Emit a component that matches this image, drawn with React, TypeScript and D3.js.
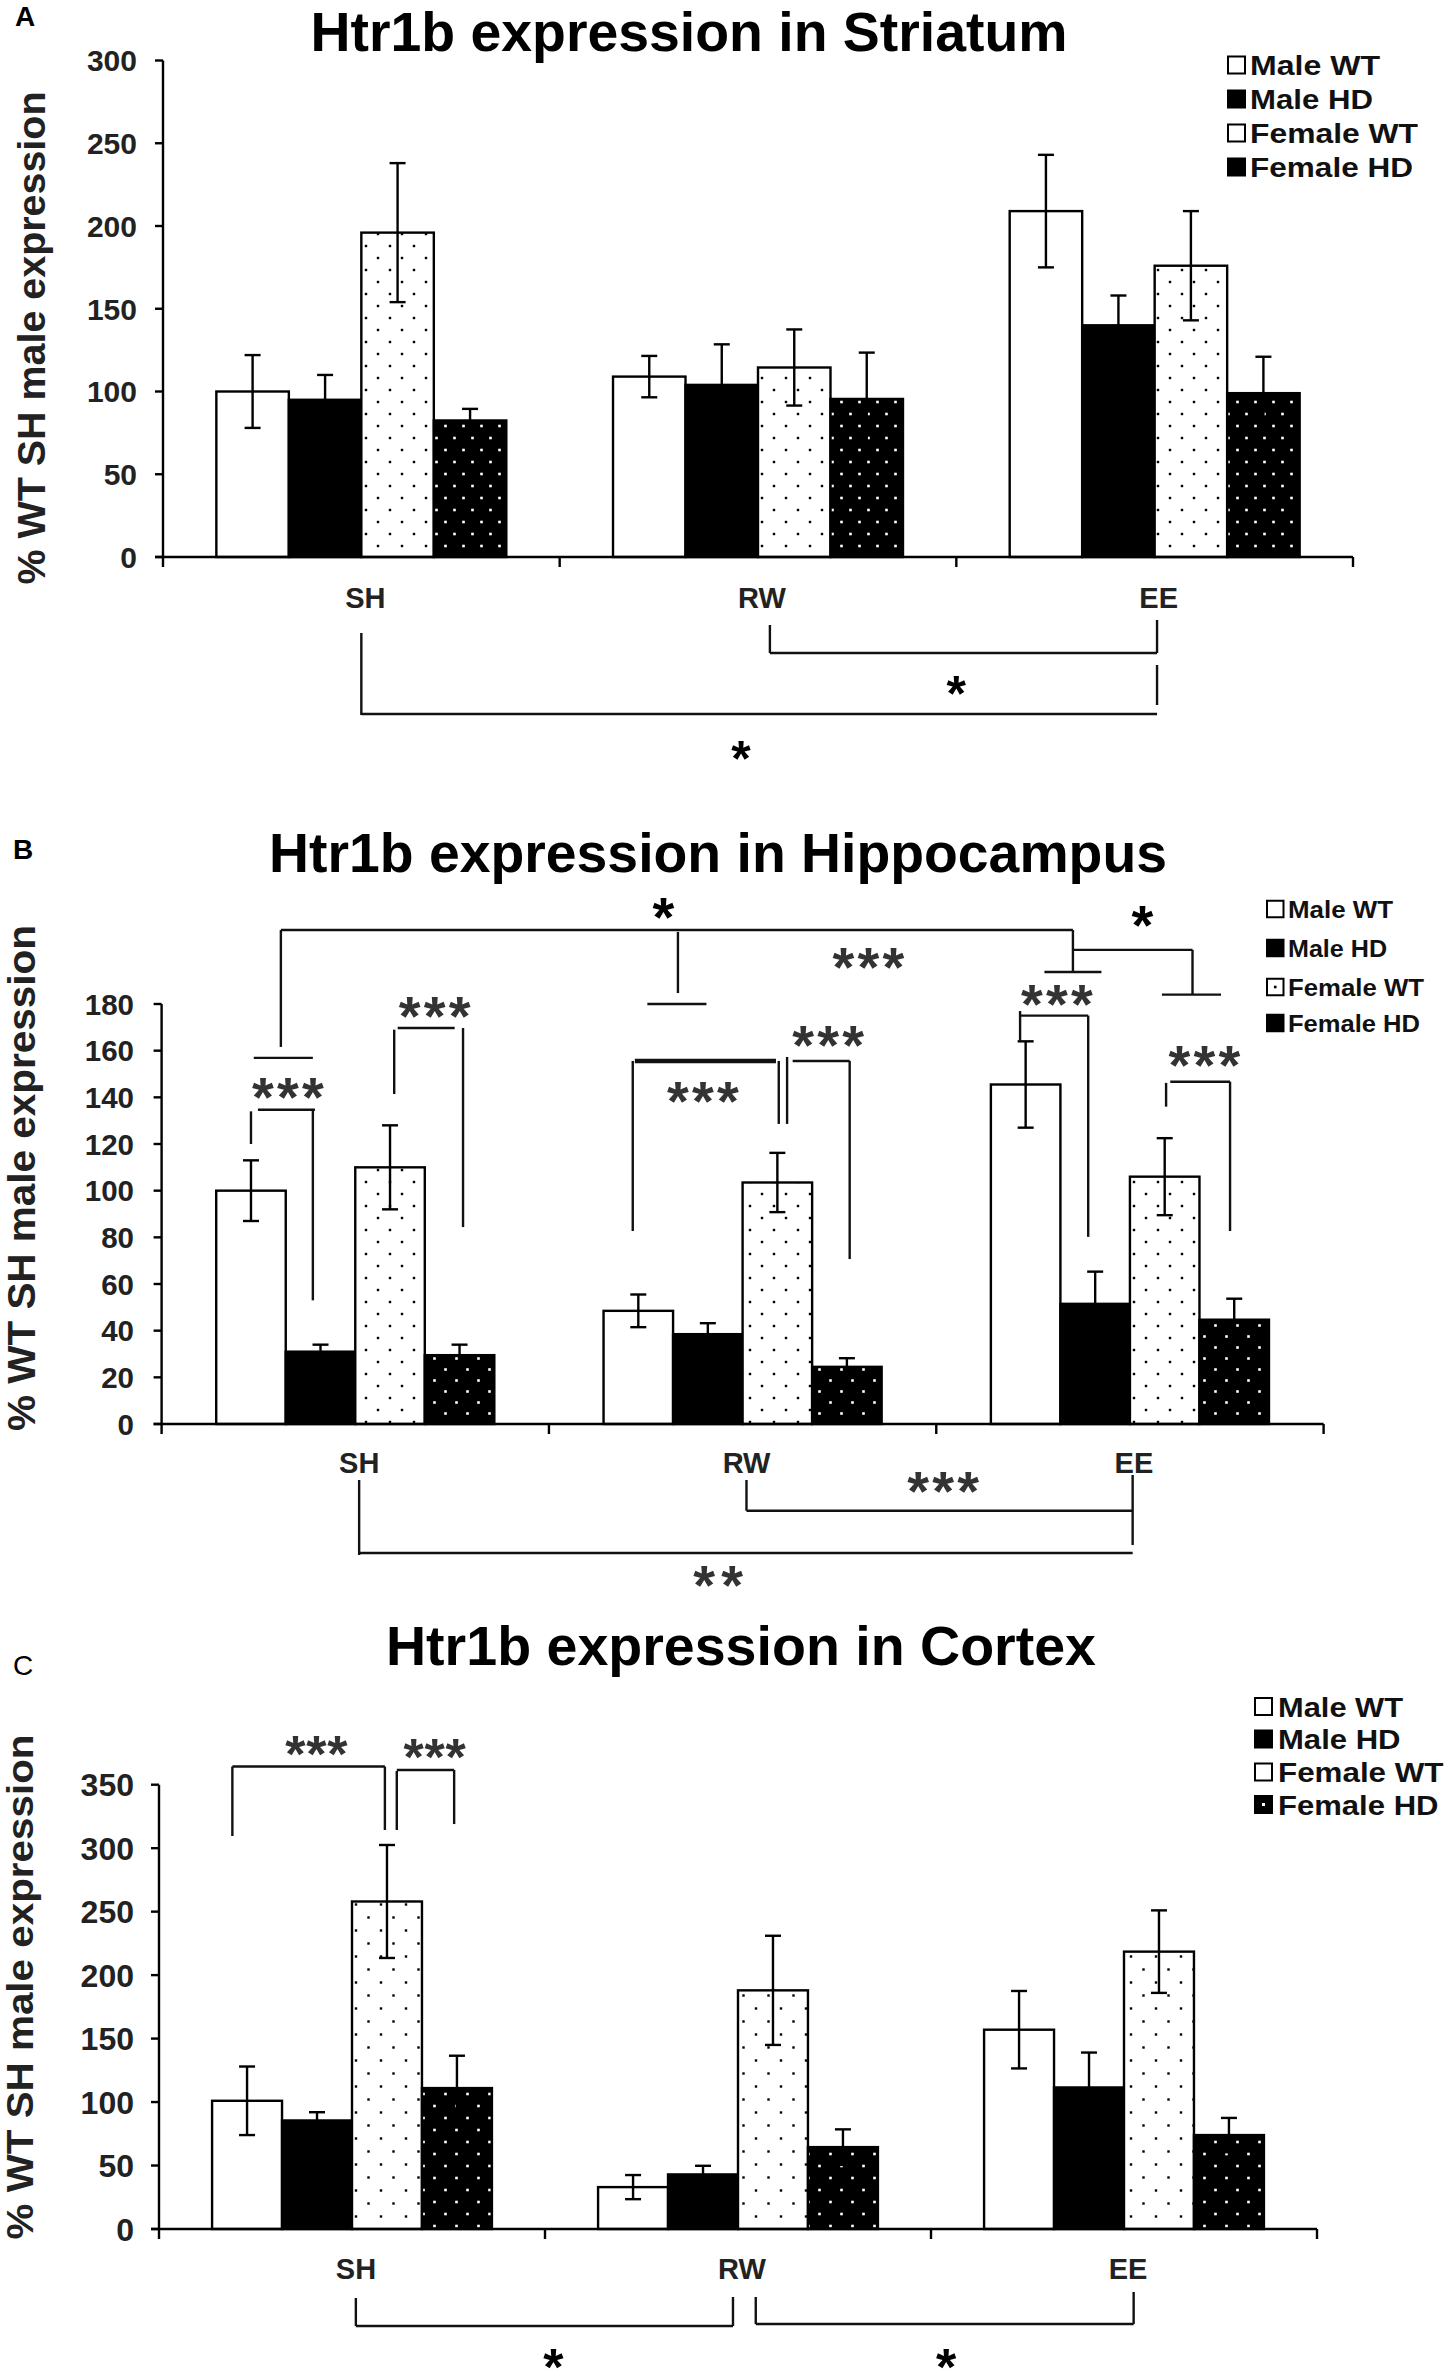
import React from 'react';
import * as d3 from 'd3';

const FONT = "'Liberation Sans', Arial, Helvetica, sans-serif";

const groups = ['SH', 'RW', 'EE'];
const seriesNames = ['Male WT', 'Male HD', 'Female WT', 'Female HD'];

// ---- Panel A: Striatum ----
const striatumMaleWT = [100, 109, 209];
const striatumMaleHD = [95, 104, 140];
const striatumFemaleWT = [196, 114.5, 176];
const striatumFemaleHD = [82.5, 95.5, 99];
const striatumMaleWTErr = [22, 12.5, 34];
const striatumMaleHDErr = [15, 24.5, 18];
const striatumFemaleWTErr = [42, 23, 33];
const striatumFemaleHDErr = [7, 28, 22];
const striatumTicks = [0, 50, 100, 150, 200, 250, 300];

// ---- Panel B: Hippocampus ----
const hippoMaleWT = [100, 48.5, 145.5];
const hippoMaleHD = [31, 38.5, 51.5];
const hippoFemaleWT = [110, 103.5, 106];
const hippoFemaleHD = [29.5, 24.5, 44.7];
const hippoMaleWTErr = [13, 7, 18.5];
const hippoMaleHDErr = [3, 4.7, 13.8];
const hippoFemaleWTErr = [18, 12.7, 16.5];
const hippoFemaleHDErr = [4.5, 3.7, 9];
const hippoTicks = [0, 20, 40, 60, 80, 100, 120, 140, 160, 180];

// ---- Panel C: Cortex ----
const cortexMaleWT = [101, 33, 157];
const cortexMaleHD = [85.5, 43, 111.5];
const cortexFemaleWT = [258, 188, 218.5];
const cortexFemaleHD = [111, 64.5, 74];
const cortexMaleWTErr = [27, 9.5, 30.5];
const cortexMaleHDErr = [6.5, 6.8, 27.5];
const cortexFemaleWTErr = [44.5, 43, 32.5];
const cortexFemaleHDErr = [25.5, 14, 13.5];
const cortexTicks = [0, 50, 100, 150, 200, 250, 300, 350];

// Significance annotations in data space: [group, barPos, value, group, barPos, value, width?]
const hippoTopSegs = [
  [0, 0.93, 211.7, 2, 1.18, 211.7],
  [0, 0.93, 211.7, 0, 0.93, 161.6],
  [0, 0.54, 156.9, 0, 1.39, 156.9],
  [1, 1.07, 210.9, 1, 1.07, 184.7],
  [1, 0.63, 180, 1, 1.48, 180],
  [2, 1.18, 211.7, 2, 1.18, 193.7],
  [2, 0.77, 193.7, 2, 1.59, 193.7],
  [2, 1.18, 203.2, 2, 2.9, 203.2],
  [2, 2.9, 203.2, 2, 2.9, 184],
  [2, 2.46, 184, 2, 3.31, 184],
  [0, 0.5, 134, 0, 0.5, 120],
  [0, 0.6, 134.7, 0, 1.42, 134.7],
  [0, 1.39, 134.7, 0, 1.39, 53],
  [0, 2.56, 169, 0, 2.56, 141.4],
  [0, 2.61, 169.7, 0, 3.43, 169.7],
  [0, 3.55, 169.7, 0, 3.55, 84.4],
  [1, 0.42, 155.6, 1, 0.42, 82.7],
  [1, 0.45, 155.6, 1, 2.48, 155.6, 4.5],
  [1, 2.52, 155.6, 1, 2.52, 128.6],
  [1, 2.64, 157.3, 1, 2.64, 128.6],
  [1, 2.72, 155.6, 1, 3.54, 155.6],
  [1, 3.54, 155.6, 1, 3.54, 70.7],
  [2, 0.42, 177, 2, 0.42, 164.2],
  [2, 0.42, 175, 2, 1.4, 175],
  [2, 1.4, 175, 2, 1.4, 80.2],
  [2, 2.52, 146.2, 2, 2.52, 136],
  [2, 2.58, 146.7, 2, 3.44, 146.7],
  [2, 3.44, 146.7, 2, 3.44, 82.7],
];
const hippoTopStars: [number, number, number, string][] = [
  [1, 0.86, 220.7, '*'],
  [2, 2.18, 217.3, '*'],
  [1, 3.81, 199.3, '***'],
  [0, 1.03, 143.6, '***'],
  [0, 3.14, 178.3, '***'],
  [1, 1.43, 141.9, '***'],
  [1, 3.23, 165.9, '***'],
  [2, 0.95, 183.5, '***'],
  [2, 3.07, 157.3, '***'],
];
const cortexTopSegs = [
  [0, 0.29, 364.3, 0, 0.29, 309.6],
  [0, 0.29, 364.3, 0, 2.47, 364.3],
  [0, 2.47, 364.3, 0, 2.47, 314.3],
  [0, 2.64, 360.8, 0, 2.64, 314.3],
  [0, 2.64, 361.6, 0, 3.46, 361.6],
  [0, 3.46, 361.6, 0, 3.46, 319],
];
const cortexTopStars: [number, number, number, string][] = [
  [0, 1.49, 379.7, '***'],
  [0, 3.18, 377.3, '***'],
];

// Brackets under the axis: [groupIndex(float), pxBelowAxis, groupIndex, pxBelowAxis]
const striatumBottomSegs = [
  [1.03, 68, 1.03, 96],
  [1.03, 96, 2.006, 96],
  [2.006, 63, 2.006, 96],
  [0.0, 76, 0.0, 158],
  [0.0, 157, 2.006, 157],
  [2.006, 108, 2.006, 148],
];
const striatumBottomStars: [number, number, string][] = [
  [1.5, 130, '*'],
  [0.957, 194.7, '*'],
];
const hippoBottomSegs = [
  [1.01, 56, 1.01, 86.7],
  [1.01, 86.7, 2.007, 86.7],
  [2.007, 51, 2.007, 121],
  [0.01, 56, 0.01, 131],
  [0.01, 129, 2.007, 129],
];
const hippoBottomStars: [number, number, string][] = [
  [1.518, 59, '***'],
  [0.937, 153, '**'],
];
const cortexBottomSegs = [
  [0.01, 69, 0.01, 97],
  [0.01, 97, 0.987, 97],
  [0.987, 68, 0.987, 97],
  [1.046, 68, 1.046, 95],
  [1.046, 95, 2.025, 95],
  [2.025, 63, 2.025, 95],
];
const cortexBottomStars: [number, number, string][] = [
  [0.522, 131, '*'],
  [1.539, 131, '*'],
];

interface LegendCfg {
  sqX: number; sq: number; textX: number; rows: number[]; font: number; lens: number[];
  fwtDot: boolean; fhdDot: boolean;
}
interface PatCfg { w: number; h: number; dots: number[][]; }
interface PanelCfg {
  id: string; title: string; titleX: number; titleY: number; titleLen: number;
  letter: string; letterX: number; letterY: number; letterBold: boolean;
  ticks: number[]; yZero: number; yTopPx: number;
  x0: number; x1: number; frac: number;
  tickFont: number; tickRight: number;
  catOffset: number; catDx: number;
  yLabelX: number; yLabelY: number; yLabelLen: number; yLabelFont: number;
  values: number[][]; errors: number[][];
  topSegs: number[][]; topStars: [number, number, number, string][];
  bottomSegs: number[][]; bottomStars: [number, number, string][];
  starSpacing: number; starFont: number;
  legend: LegendCfg; patW: PatCfg; patB: PatCfg;
}

const panels: PanelCfg[] = [
  {
    id: 'A', title: 'Htr1b expression in Striatum', titleX: 689, titleY: 51, titleLen: 757,
    letter: 'A', letterX: 15, letterY: 26, letterBold: true,
    ticks: striatumTicks, yZero: 557, yTopPx: 60.5,
    x0: 163, x1: 1353, frac: 0.731,
    tickFont: 30, tickRight: 137, catOffset: 51, catDx: 4,
    yLabelX: 32, yLabelY: 338, yLabelLen: 493, yLabelFont: 38,
    values: [striatumMaleWT, striatumMaleHD, striatumFemaleWT, striatumFemaleHD],
    errors: [striatumMaleWTErr, striatumMaleHDErr, striatumFemaleWTErr, striatumFemaleHDErr],
    topSegs: [], topStars: [],
    bottomSegs: striatumBottomSegs, bottomStars: striatumBottomStars,
    starSpacing: 25, starFont: 50,
    legend: { sqX: 1228, sq: 17, textX: 1250, rows: [65, 99, 133, 167], font: 28, lens: [130, 123, 168, 163], fwtDot: false, fhdDot: false },
    patW: { w: 24, h: 24, dots: [[6, 6], [18, 18]] },
    patB: { w: 18, h: 24, dots: [[4.5, 6], [13.5, 18]] },
  },
  {
    id: 'B', title: 'Htr1b expression in Hippocampus', titleX: 718, titleY: 872, titleLen: 898,
    letter: 'B', letterX: 13, letterY: 859, letterBold: true,
    ticks: hippoTicks, yZero: 1424, yTopPx: 1004,
    x0: 161.6, x1: 1323.6, frac: 0.718,
    tickFont: 29.5, tickRight: 134, catOffset: 49, catDx: 4,
    yLabelX: 21, yLabelY: 1178, yLabelLen: 506, yLabelFont: 39,
    values: [hippoMaleWT, hippoMaleHD, hippoFemaleWT, hippoFemaleHD],
    errors: [hippoMaleWTErr, hippoMaleHDErr, hippoFemaleWTErr, hippoFemaleHDErr],
    topSegs: hippoTopSegs, topStars: hippoTopStars,
    bottomSegs: hippoBottomSegs, bottomStars: hippoBottomStars,
    starSpacing: 25, starFont: 56,
    legend: { sqX: 1267, sq: 16.5, textX: 1288, rows: [909, 948, 987, 1023], font: 24, lens: [105, 99, 136, 132], fwtDot: true, fhdDot: false },
    patW: { w: 24, h: 24, dots: [[6, 6], [18, 18]] },
    patB: { w: 22, h: 22, dots: [[5.5, 5.5], [16.5, 16.5]] },
  },
  {
    id: 'C', title: 'Htr1b expression in Cortex', titleX: 741, titleY: 1665, titleLen: 710,
    letter: 'C', letterX: 13, letterY: 1675, letterBold: false,
    ticks: cortexTicks, yZero: 2229, yTopPx: 1784.7,
    x0: 159, x1: 1317, frac: 0.725,
    tickFont: 32, tickRight: 134, catOffset: 50, catDx: 4,
    yLabelX: 20, yLabelY: 1987, yLabelLen: 505, yLabelFont: 36,
    values: [cortexMaleWT, cortexMaleHD, cortexFemaleWT, cortexFemaleHD],
    errors: [cortexMaleWTErr, cortexMaleHDErr, cortexFemaleWTErr, cortexFemaleHDErr],
    topSegs: cortexTopSegs, topStars: cortexTopStars,
    bottomSegs: cortexBottomSegs, bottomStars: cortexBottomStars,
    starSpacing: 21, starFont: 52,
    legend: { sqX: 1255, sq: 17, textX: 1278, rows: [1706.5, 1739, 1772, 1804.5], font: 28, lens: [125, 122.5, 165.5, 160.5], fwtDot: false, fhdDot: true },
    patW: { w: 25, h: 26, dots: [[6, 6.5], [18.5, 19.5]] },
    patB: { w: 22, h: 24, dots: [[5.5, 6], [16.5, 18]] },
  },
];

function Stars({ x, y, text, spacing, color, font }: { x: number; y: number; text: string; spacing: number; color: string; font: number }) {
  const n = text.length;
  return (
    <g>
      {d3.range(n).map((i) => (
        <text
          key={i}
          x={x + (i - (n - 1) / 2) * spacing}
          y={y + font * 0.48}
          textAnchor="middle"
          fontFamily={FONT}
          fontWeight="bold"
          fontSize={font}
          fill={color}
        >
          *
        </text>
      ))}
    </g>
  );
}

function Panel({ cfg }: { cfg: PanelCfg }) {
  const yMax = d3.max(cfg.ticks) as number;
  const y = d3.scaleLinear().domain([0, yMax]).range([cfg.yZero, cfg.yTopPx]);
  const gx = d3.scaleBand<string>().domain(groups).range([cfg.x0, cfg.x1]).paddingInner(0).paddingOuter(0);
  const gw = gx.bandwidth();
  const pad = (gw * (1 - cfg.frac)) / 2;
  const inner = d3.scaleBand<string>().domain(seriesNames).range([pad, gw - pad]).padding(0);
  const bw = inner.bandwidth();
  const px = (g: number, p: number) => (gx(groups[g]) as number) + pad + p * bw;
  const gcx = (gf: number) => (gx(groups[0]) as number) + gw / 2 + gf * gw;
  const fills = ['#fff', '#000', `url(#pw${cfg.id})`, `url(#pb${cfg.id})`];
  const lineCol = '#111';
  const boundaries = d3.range(groups.length + 1).map((i) => cfg.x0 + i * gw);

  return (
    <g>
      <defs>
        <pattern id={`pw${cfg.id}`} patternUnits="userSpaceOnUse" width={cfg.patW.w} height={cfg.patW.h}>
          <rect width={cfg.patW.w} height={cfg.patW.h} fill="#fff" />
          {cfg.patW.dots.map((d, i) => (
            <rect key={i} x={d[0] - 1.2} y={d[1] - 1.2} width={2.4} height={2.4} fill="#000" />
          ))}
        </pattern>
        <pattern id={`pb${cfg.id}`} patternUnits="userSpaceOnUse" width={cfg.patB.w} height={cfg.patB.h}>
          <rect width={cfg.patB.w} height={cfg.patB.h} fill="#000" />
          {cfg.patB.dots.map((d, i) => (
            <rect key={i} x={d[0] - 1.3} y={d[1] - 1.3} width={2.6} height={2.6} fill="#fff" />
          ))}
        </pattern>
      </defs>

      {/* panel letter */}
      <text x={cfg.letterX} y={cfg.letterY} fontFamily={FONT} fontWeight={cfg.letterBold ? 'bold' : 'normal'} fontSize={28} fill="#000">
        {cfg.letter}
      </text>

      {/* title */}
      <text x={cfg.titleX} y={cfg.titleY} textAnchor="middle" fontFamily={FONT} fontWeight="bold" fontSize={55}
        textLength={cfg.titleLen} lengthAdjust="spacingAndGlyphs" fill="#000">
        {cfg.title}
      </text>

      {/* bars */}
      {groups.map((g, gi) =>
        seriesNames.map((s, si) => {
          const v = cfg.values[si][gi];
          const x = (gx(g) as number) + (inner(s) as number);
          return (
            <rect key={`${g}-${s}`} x={x} y={y(v)} width={bw} height={y(0) - y(v)}
              fill={fills[si]} stroke="#000" strokeWidth={2.4} />
          );
        })
      )}

      {/* error bars */}
      {groups.map((g, gi) =>
        seriesNames.map((s, si) => {
          const v = cfg.values[si][gi];
          const e = cfg.errors[si][gi];
          const cx = (gx(g) as number) + (inner(s) as number) + bw / 2;
          const cap = 8;
          return (
            <g key={`e${g}-${s}`} stroke="#000" strokeWidth={2.4}>
              <line x1={cx} x2={cx} y1={y(v - e)} y2={y(v + e)} />
              <line x1={cx - cap} x2={cx + cap} y1={y(v + e)} y2={y(v + e)} />
              <line x1={cx - cap} x2={cx + cap} y1={y(v - e)} y2={y(v - e)} />
            </g>
          );
        })
      )}

      {/* y axis */}
      <line x1={cfg.x0} x2={cfg.x0} y1={y(yMax)} y2={y(0) + 10} stroke="#000" strokeWidth={2.4} />
      {cfg.ticks.map((t) => (
        <g key={`t${t}`}>
          <line x1={cfg.x0 - 8} x2={cfg.x0} y1={y(t)} y2={y(t)} stroke="#000" strokeWidth={2.4} />
          <text x={cfg.tickRight} y={y(t) + cfg.tickFont * 0.36} textAnchor="end" fontFamily={FONT}
            fontWeight="bold" fontSize={cfg.tickFont} fill="#222">
            {t}
          </text>
        </g>
      ))}

      {/* x axis */}
      <line x1={cfg.x0 - 8} x2={cfg.x1} y1={y(0)} y2={y(0)} stroke="#000" strokeWidth={2.4} />
      {boundaries.slice(1).map((b, i) => (
        <line key={`xb${i}`} x1={b} x2={b} y1={y(0)} y2={y(0) + 10} stroke="#000" strokeWidth={2.4} />
      ))}
      {groups.map((g) => (
        <text key={`c${g}`} x={(gx(g) as number) + gw / 2 + cfg.catDx} y={y(0) + cfg.catOffset}
          textAnchor="middle" fontFamily={FONT} fontWeight="bold" fontSize={29} fill="#222">
          {g}
        </text>
      ))}

      {/* y label */}
      <text transform={`translate(${cfg.yLabelX},${cfg.yLabelY}) rotate(-90)`} textAnchor="middle"
        dominantBaseline="central" fontFamily={FONT} fontWeight="bold" fontSize={cfg.yLabelFont}
        textLength={cfg.yLabelLen} lengthAdjust="spacingAndGlyphs" fill="#222">
        % WT SH male expression
      </text>

      {/* annotations above bars */}
      {cfg.topSegs.map((s, i) => (
        <line key={`ts${i}`} x1={px(s[0], s[1])} y1={y(s[2])} x2={px(s[3], s[4])} y2={y(s[5])}
          stroke={lineCol} strokeWidth={s[6] || 2.4} />
      ))}
      {cfg.topStars.map((s, i) => (
        <Stars key={`tst${i}`} x={px(s[0], s[1])} y={y(s[2])} text={s[3]} spacing={cfg.starSpacing}
          font={cfg.starFont} color={s[3].length > 1 ? '#333' : '#000'} />
      ))}

      {/* brackets below axis */}
      {cfg.bottomSegs.map((s, i) => (
        <line key={`bs${i}`} x1={gcx(s[0])} y1={y(0) + s[1]} x2={gcx(s[2])} y2={y(0) + s[3]}
          stroke={lineCol} strokeWidth={2.4} />
      ))}
      {cfg.bottomStars.map((s, i) => (
        <Stars key={`bst${i}`} x={gcx(s[0])} y={y(0) + s[1]} text={s[2]} spacing={s[2].length === 2 ? 28 : cfg.starSpacing}
          font={cfg.starFont} color={s[2].length > 1 ? '#333' : '#000'} />
      ))}

      {/* legend */}
      {seriesNames.map((name, i) => {
        const L = cfg.legend;
        const cy = L.rows[i];
        const dark = i % 2 === 1;
        return (
          <g key={`lg${i}`}>
            <rect x={L.sqX} y={cy - L.sq / 2} width={L.sq} height={L.sq} fill={dark ? '#000' : '#fff'}
              stroke="#000" strokeWidth={2} />
            {i === 2 && L.fwtDot && <rect x={L.sqX + L.sq / 2 - 1.3} y={cy - 1.3} width={2.6} height={2.6} fill="#000" />}
            {i === 3 && L.fhdDot && <rect x={L.sqX + L.sq / 2 - 1.5} y={cy - 1.5} width={3} height={3} fill="#fff" />}
            <text x={L.textX} y={cy + L.font * 0.36} fontFamily={FONT} fontWeight="bold" fontSize={L.font}
              textLength={L.lens[i]} lengthAdjust="spacingAndGlyphs" fill="#111">
              {name}
            </text>
          </g>
        );
      })}
    </g>
  );
}

export default function App() {
  return (
    <div style={{ position: 'absolute', left: 0, top: 0, background: '#fff' }}>
      <svg width={1450} height={2373} viewBox="0 0 1450 2373" style={{ display: 'block', background: '#fff' }}>
        <rect width={1450} height={2373} fill="#fff" />
        {panels.map((p) => (
          <Panel key={p.id} cfg={p} />
        ))}
      </svg>
    </div>
  );
}
